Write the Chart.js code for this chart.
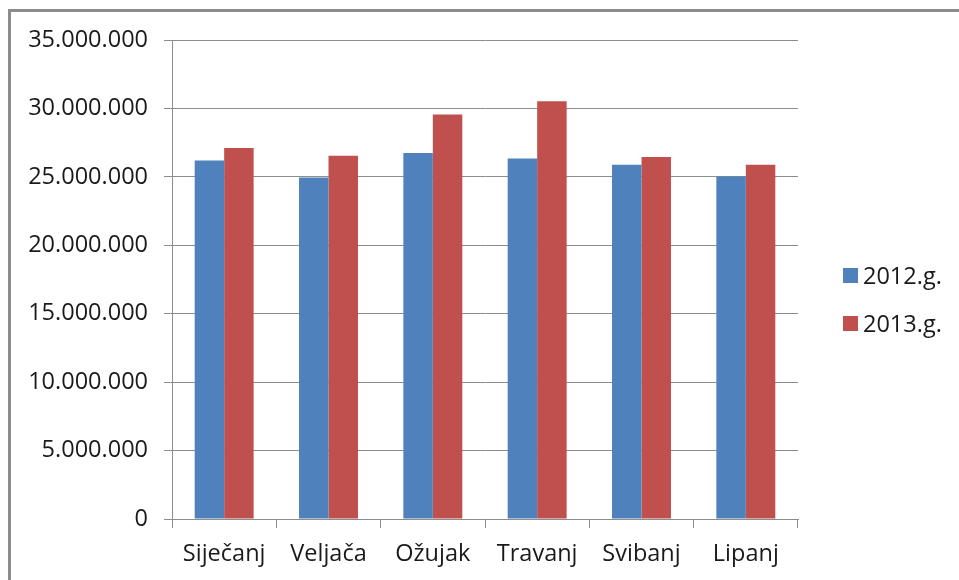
<!DOCTYPE html>
<html>
<head>
<meta charset="utf-8">
<script src="https://cdn.jsdelivr.net/npm/chart.js@4/dist/chart.umd.min.js"></script>
<style>
  html, body { margin: 0; padding: 0; background: #fff; }
  #wrap { position: relative; width: 959px; height: 580px; overflow: hidden; }
  #frame {
    position: absolute; left: 8px; top: 9px; width: 1000px; height: 700px;
    border-left: 3px solid #8c8c8c; border-top: 3px solid #8c8c8c;
  }
  #chart { position: absolute; left: 0; top: 0; }
  #legend { position: absolute; left: 843px; top: 260px; font-family: 'Open Sans', sans-serif; font-size: 23.5px; color: #1a1a1a; }
  .item { display: flex; align-items: center; height: 30px; margin-bottom: 18px; }
  .box { width: 15px; height: 15px; margin-right: 5px; }
</style>
</head>
<body>
<div id="wrap">
  <div id="frame"></div>
  <canvas id="chart" width="959" height="580"></canvas>
  <div id="legend"></div>
</div>
<script>
// ---------- Data ----------
const categories = ['Siječanj', 'Veljača', 'Ožujak', 'Travanj', 'Svibanj', 'Lipanj'];
const seriesNames = ['2012.g.', '2013.g.'];
const values2012 = [26200000, 24950000, 26750000, 26350000, 25880000, 25030000];
const values2013 = [27100000, 26550000, 29550000, 30530000, 26460000, 25880000];
const yTicks = [0, 5000000, 10000000, 15000000, 20000000, 25000000, 30000000, 35000000];

const COLORS = ['#4f81bd', '#c0504d'];
const FONT = { family: "'Open Sans', sans-serif", size: 23.5 };

// 35000000 -> 35.000.000
const fmt = (v) => String(v).replace(/\B(?=(\d{3})+(?!\d))/g, '.');

// ---------- Legend (HTML) ----------
document.getElementById('legend').innerHTML = seriesNames.map((n, i) => `
  <div class="item"><span class="box" style="background:${COLORS[i]}"></span><span>${n}</span></div>
`).join('');

// ---------- Chart ----------
const PAD = { left: 0, right: 161, top: 40, bottom: 0 };

new Chart(document.getElementById('chart'), {
  type: 'bar',
  data: {
    labels: categories,
    datasets: [values2012, values2013].map((d, i) => ({
      label: seriesNames[i],
      data: d,
      backgroundColor: COLORS[i],
      borderWidth: 0,
      categoryPercentage: 0.565,
      barPercentage: 1,
    })),
  },
  options: {
    responsive: false,
    animation: false,
    layout: { padding: PAD },
    plugins: { legend: { display: false }, tooltip: { enabled: false } },
    scales: {
      x: {
        grid: { offset: true, drawOnChartArea: false, drawTicks: true, tickLength: 9, color: '#8c8c8c' },
        border: { color: '#8c8c8c', width: 1 },
        ticks: { color: '#1a1a1a', font: FONT, padding: 12, maxRotation: 0 },
        afterFit: (s) => { s.height = 580 - 519; },
      },
      y: {
        min: 0,
        max: 35000000,
        afterBuildTicks: (s) => { s.ticks = yTicks.map(v => ({ value: v })); },
        grid: { color: '#8c8c8c', tickLength: 8 },
        border: { color: '#8c8c8c', width: 1 },
        ticks: { color: '#1a1a1a', font: FONT, padding: 16, callback: (v) => fmt(v) },
        afterFit: (s) => { s.width = 172; },
      },
    },
  },
});
</script>
</body>
</html>
